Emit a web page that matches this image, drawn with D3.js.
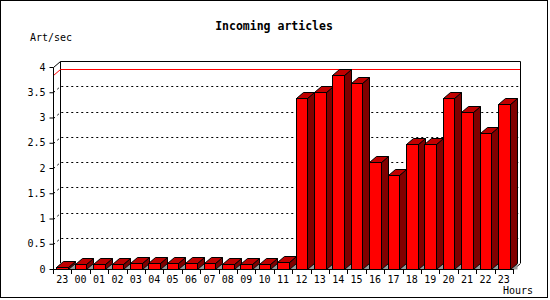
<!DOCTYPE html>
<html>
<head>
<meta charset="utf-8">
<script src="https://cdn.jsdelivr.net/npm/d3@7"></script>
<style>
  body { margin: 0; background: #fff; }
  svg text { font-family: "DejaVu Sans Mono", monospace; font-size: 10px; fill: #000; }
</style>
</head>
<body>
<svg id="chart" width="550" height="300"></svg>
<script>
var hours = ["23", "00", "01", "02", "03", "04", "05", "06", "07", "08", "09", "10", "11",
             "12", "13", "14", "15", "16", "17", "18", "19", "20", "21", "22", "23b"];
var artPerSec = [0.03, 0.1, 0.1, 0.1, 0.12, 0.12, 0.12, 0.12, 0.12, 0.1, 0.1, 0.1, 0.14,
                 3.38, 3.5, 3.84, 3.68, 2.11, 1.87, 2.47, 2.47, 3.38, 3.1, 2.69, 3.26];
var yTicks = [0, 0.5, 1, 1.5, 2, 2.5, 3, 3.5, 4];

var svg = d3.select("#chart");
var depthX = 7, depthY = 6;
var plotLeft = 53, plotRight = 513, plotBottom = 269, plotTop = 67;

var x = d3.scaleBand().domain(hours).range([plotLeft, plotRight]);
var y = d3.scaleLinear().domain([0, 4]).range([plotBottom, plotTop]);

// outer frame
svg.append("rect").attr("x", 0.5).attr("y", 0.5).attr("width", 547).attr("height", 297)
   .attr("fill", "#fff").attr("stroke", "#000");

// back plane outline
var frame = svg.append("g").attr("fill", "none").attr("stroke", "#000");
frame.append("path")
     .attr("d", "M" + (plotLeft + depthX + 0.5) + "," + (plotBottom - depthY) + "V" + (plotTop - depthY + 0.5)
                + "H" + (plotRight + depthX + 0.5) + "V" + (plotBottom - depthY));
frame.append("path").attr("d", "M" + (plotLeft + 0.5) + "," + (plotTop + 0.5) + "l" + depthX + "," + (-depthY));
frame.append("path").attr("d", "M" + (plotRight + 0.5) + "," + (plotBottom + 0.5) + "l" + depthX + "," + (-depthY));

// dotted grid (front axis -> back plane)
yTicks.filter(function(d) { return d > 0 && d < 4; }).forEach(function(d) {
  var yy = Math.round(y(d)) + 0.5;
  svg.append("path")
     .attr("d", "M" + (plotLeft + 0.5) + "," + yy + "l" + depthX + "," + (-depthY) + "H" + (plotRight + depthX))
     .attr("fill", "none").attr("stroke", "#000").attr("stroke-dasharray", "2,3");
});

// max line in red
var maxV = d3.max(artPerSec);
var ym = Math.round(y(maxV)) + 0.5;
svg.append("path")
   .attr("d", "M" + (plotLeft + 0.5) + "," + ym + "l" + depthX + "," + (-depthY) + "H" + (plotRight + depthX))
   .attr("fill", "none").attr("stroke", "#ff0000");

// bars
var bw = x.bandwidth() * 0.62;
var bars = svg.append("g").attr("stroke", "#000").attr("stroke-linejoin", "miter");
artPerSec.forEach(function(v, i) {
  var c = x(hours[i]) + x.bandwidth() / 2;
  var x0 = Math.round(c - bw / 2) + 0.5, x1 = Math.round(c + bw / 2) + 0.5;
  var yt = Math.round(y(v)) + 0.5, yb = plotBottom + 0.5;
  bars.append("path")
      .attr("d", "M" + x1 + "," + yb + "L" + (x1 + depthX) + "," + (yb - depthY) + "L" + (x1 + depthX) + "," + yb + "Z")
      .attr("fill", "#999").attr("stroke", "none");
  bars.append("path")
      .attr("d", "M" + x1 + "," + yt + "L" + (x1 + depthX) + "," + (yt - depthY) + "L" + (x1 + depthX) + "," + (yb - depthY) + "L" + x1 + "," + yb + "Z")
      .attr("fill", "#800000");
  bars.append("path")
      .attr("d", "M" + x0 + "," + yt + "L" + (x0 + depthX) + "," + (yt - depthY) + "L" + (x1 + depthX) + "," + (yt - depthY) + "L" + x1 + "," + yt + "Z")
      .attr("fill", "#c00000");
  bars.append("rect").attr("x", x0).attr("y", yt).attr("width", x1 - x0).attr("height", yb - yt)
      .attr("fill", "#ff0000");
});

// y axis (front)
svg.append("g")
   .attr("transform", "translate(" + (plotLeft + 0.5) + ",0)")
   .call(d3.axisLeft(y).tickValues(yTicks).tickSize(4).tickPadding(4)
           .tickFormat(function(d) { return d3.format("")(d); }))
   .call(function(g) {
     g.select(".domain").attr("d", "M0," + (y(4) + 0.5) + "V" + (plotBottom + 0.5));
     g.selectAll("text").style("font-family", "DejaVu Sans Mono").style("font-size", "10px");
   });

// x axis (front)
svg.append("g")
   .attr("transform", "translate(0," + (plotBottom + 0.5) + ")")
   .call(d3.axisBottom(x).tickSize(0).tickPadding(6)
           .tickFormat(function(d) { return d.slice(0, 2); }))
   .call(function(g) {
     g.select(".domain").attr("d", "M" + plotLeft + ",0H" + plotRight);
     g.selectAll("text").style("font-family", "DejaVu Sans Mono").style("font-size", "10px");
   });
svg.append("g").selectAll("line")
   .data(hours.concat(["end"]))
   .enter().append("line")
   .attr("x1", function(d, i) { return Math.round(plotLeft + i * x.step()) + 0.5; })
   .attr("x2", function(d, i) { return Math.round(plotLeft + i * x.step()) + 0.5; })
   .attr("y1", plotBottom).attr("y2", plotBottom + 5)
   .attr("stroke", "#000");

// labels
svg.append("text").attr("x", 274).attr("y", 30).attr("text-anchor", "middle")
   .style("font-weight", "bold").style("font-size", "11.5px").text("Incoming articles");
svg.append("text").attr("x", 30).attr("y", 41).text("Art/sec");
svg.append("text").attr("x", 533).attr("y", 294).attr("text-anchor", "end").text("Hours");
</script>
</body>
</html>
